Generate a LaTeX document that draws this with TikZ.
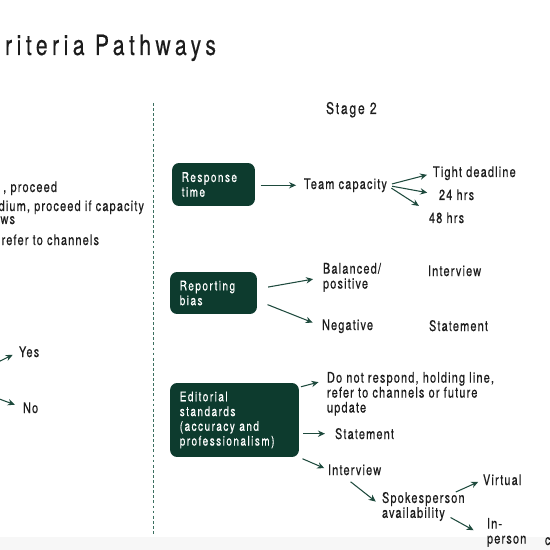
\documentclass[tikz,border=0pt]{standalone}
\usepackage{fontspec}
\setmainfont{TeX Gyre Heros}[FakeStretch=0.75,LetterSpace=8,FakeBold=0.5]
\newfontfamily\boxfont{TeX Gyre Heros}[FakeStretch=0.75,LetterSpace=11,FakeBold=0.5]
\newfontfamily\titlefont{TeX Gyre Heros}[FakeStretch=0.75,LetterSpace=16,FakeBold=0.4]
\usetikzlibrary{arrows.meta}
\definecolor{boxgreen}{HTML}{0D3B2E}
\definecolor{arrgreen}{HTML}{1E4A3D}
\definecolor{inkgray}{HTML}{1C1C1C}
\definecolor{dashgreen}{HTML}{3B6F60}

\begin{document}
\begin{tikzpicture}[x=0.02cm,y=-0.02cm,
  critbox/.style={rectangle,rounded corners=4pt,fill=boxgreen,text=white,align=left,
    inner xsep=5.5pt,inner ysep=0pt,font=\boxfont\fontsize{7.6}{8.4}\selectfont},
  lbl/.style={inner sep=0pt,outer sep=0pt,text=inkgray,align=left,
    font=\fontsize{8.3}{8.5}\selectfont},
  arr/.style={draw=arrgreen,line width=0.6pt,-{Stealth[length=4pt,width=3.6pt]}}]
\useasboundingbox (0,0) rectangle (550,550);
\clip (0,0) rectangle (550,550);
\fill[gray!6] (0,537) rectangle (550,550);

% title, divider and stage heading
\node[lbl,font=\titlefont\fontsize{16}{18}\selectfont,anchor=base east] (title) at (216,55) {riteria Pathways};
\draw[dashgreen,line width=0.5pt,dash pattern=on 1.6pt off 1.3pt] (153,103) -- (153,535);
\node[lbl,font=\boxfont\fontsize{9.2}{10}\selectfont,anchor=base west] (stage) at (326,114) {Stage 2};

% left column, cut off
\node[lbl,anchor=base east] (high) at (57,192) {, proceed};
\node[lbl,anchor=base east] (med) at (144,211) {dium, proceed if capacity};
\node[lbl,anchor=base east] (allow) at (15,224) {ws};
\node[lbl,anchor=base east] (low) at (99,245) {refer to channels};
\node[lbl,anchor=base west] (yes) at (19,357) {Yes};
\node[lbl,anchor=base west] (no) at (23,413) {No};
\coordinate (yesfrom) at (-6,364);
\coordinate (nofrom) at (-6,397);
\draw[arr,shorten >=4pt] (yesfrom) -- (yes.west);
\draw[arr,shorten >=5pt] (nofrom) -- (no.west);

% response time
\node[critbox,text width=1.27cm,minimum height=0.86cm] (resp) at (213.5,184.5) {Response\\time};
\node[lbl,anchor=base west] (team) at (304,189) {Team capacity};
\node[lbl,anchor=base west] (tight) at (433,177) {Tight deadline};
\node[lbl,anchor=base west] (h24) at (439,200) {24 hrs};
\node[lbl,anchor=base west] (h48) at (429,223) {48 hrs};
\draw[arr,shorten <=3pt,shorten >=4.5pt] (team.west -| resp.east) -- (team.west);
\draw[arr,shorten <=3pt,shorten >=3.5pt] (team.east) -- (tight.west);
\draw[arr,shorten <=3pt,shorten >=6.8pt] (team.east) -- (h24.west);
\draw[arr,shorten <=3pt,shorten >=6.8pt] (team.east) -- (h48.north west);

% reporting bias
\node[critbox,text width=1.35cm,minimum height=0.84cm] (rep) at (213.5,293) {Reporting\\bias};
\node[lbl,anchor=north west] (bal) at (323,263) {Balanced/\\positive};
\node[lbl,anchor=base west] (neg) at (322,330) {Negative};
\node[lbl,anchor=base west] (intv) at (428,276) {Interview};
\node[lbl,anchor=base west] (stmt) at (429,331) {Statement};
\draw[arr,shorten <=6.3pt,shorten >=5.7pt] ([yshift=2.3pt]rep.east) -- (bal.west);
\draw[arr,shorten <=6.3pt,shorten >=5.7pt] ([yshift=-4.3pt]rep.east) -- (neg.west);

% editorial standards
\node[critbox,text width=2.19cm,minimum height=1.48cm] (edit) at (234.5,420) {Editorial\\standards\\(accuracy and\\professionalism)};
\node[lbl,anchor=north west] (hold) at (327,372) {Do not respond, holding line,\\refer to channels or future\\update};
\node[lbl,anchor=base west] (edstmt) at (335,439) {Statement};
\node[lbl,anchor=base west] (edintv) at (328,475) {Interview};
\node[lbl,anchor=north west] (spokes) at (382,492) {Spokesperson\\availability};
\node[lbl,anchor=base west] (virt) at (483,485) {Virtual};
\node[lbl,anchor=north west] (inpers) at (487,518) {In-\\person};
\node[lbl,anchor=base west] (cut) at (545,545) {c};
\draw[arr,shorten <=1pt,shorten >=5pt] ([yshift=-2.6pt]edit.north east) -- ([yshift=-4.5pt]hold.north west);
\draw[arr,shorten <=2.3pt,shorten >=5.7pt] (edstmt.west -| edit.east) -- (edstmt.west);
\draw[arr,shorten <=2pt,shorten >=2.3pt] (edit.south east) -- (edintv.west);
\draw[arr,shorten <=6pt,shorten >=4.5pt] ([xshift=-7pt]edintv.south) -- (spokes.west);
\draw[arr,shorten >=3pt] ([xshift=-5pt]spokes.north east) -- (virt.west);
\draw[arr,shorten >=8.7pt] ([xshift=-8pt,yshift=2pt]spokes.south east) -- ([yshift=-3pt]inpers.west);
\end{tikzpicture}
\end{document}
